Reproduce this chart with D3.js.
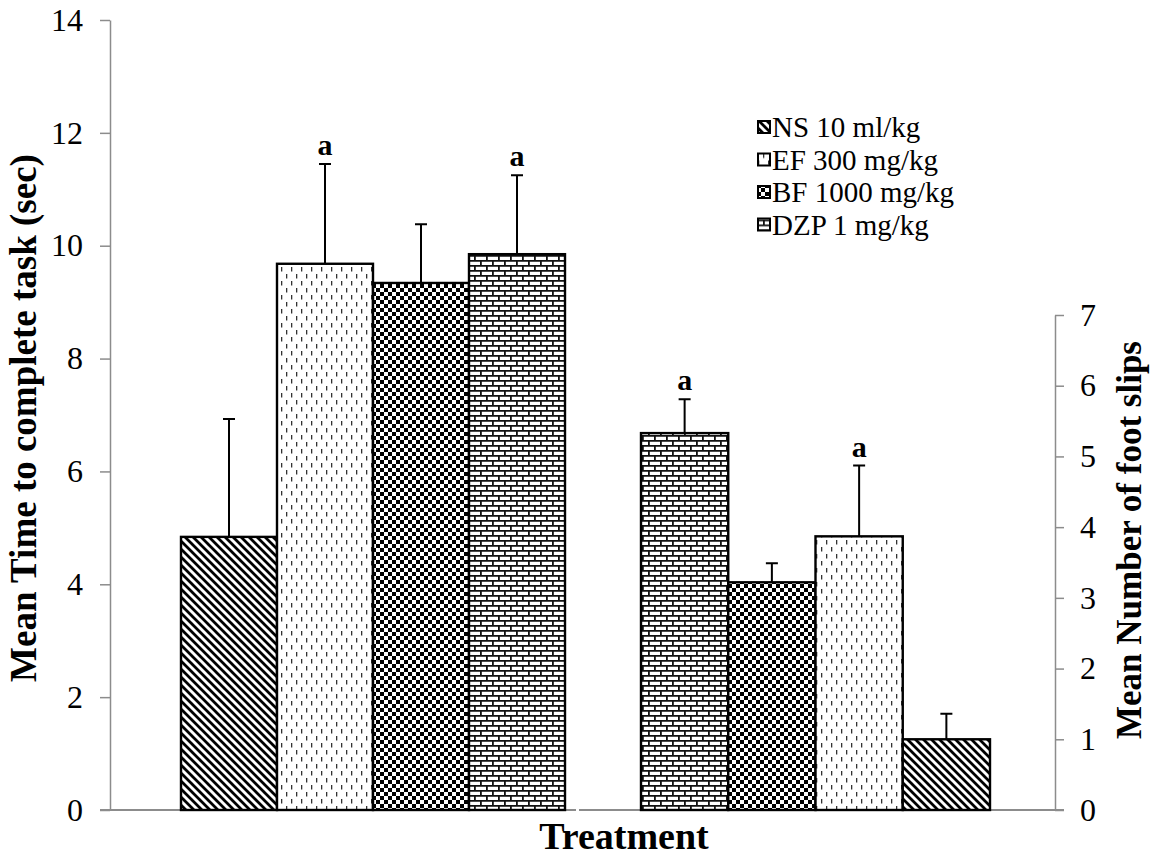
<!DOCTYPE html>
<html>
<head>
<meta charset="utf-8">
<script src="https://cdn.jsdelivr.net/npm/d3@7"></script>
<style>
  html, body { margin: 0; padding: 0; background: #fff; }
  svg { display: block; }
  text { font-family: "Liberation Serif", "Times New Roman", serif; fill: #000; }
</style>
</head>
<body>
<svg id="chart" width="1151" height="863"></svg>
<script>
// Treatments, in legend order
const treatments = ["NS 10 ml/kg", "EF 300 mg/kg", "BF 1000 mg/kg", "DZP 1 mg/kg"];
const patternIds = ["pNS", "pEF", "pBF", "pDZP"];

// Time to complete the task (sec), mean and SEM, legend order
const timeMean = [4.84, 9.68, 9.34, 9.85];
const timeSem  = [2.09, 1.77, 1.04, 1.40];
const timeSig  = ["", "a", "", "a"];

// Number of foot slips, mean and SEM, legend order
const slipMean = [1.00, 3.87, 3.22, 5.33];
const slipSem  = [0.36, 1.00, 0.27, 0.48];
const slipSig  = ["", "a", "", "a"];
// The foot-slip group is drawn in reverse order
const slipOrder = ["DZP 1 mg/kg", "BF 1000 mg/kg", "EF 300 mg/kg", "NS 10 ml/kg"];

const leftTicks  = [0, 2, 4, 6, 8, 10, 12, 14];
const rightTicks = [0, 1, 2, 3, 4, 5, 6, 7];

const svg = d3.select("#chart");

// ---- fill patterns ----
const defs = svg.append("defs");

const pNS = defs.append("pattern").attr("id", "pNS")
  .attr("patternUnits", "userSpaceOnUse").attr("width", 8).attr("height", 8);
pNS.append("rect").attr("width", 8).attr("height", 8).attr("fill", "#fff");
pNS.append("path").attr("d", "M-2,-2L10,10M-2,6L2,10M6,-2L10,2")
  .attr("stroke", "#000").attr("stroke-width", 2.8);

const pEF = defs.append("pattern").attr("id", "pEF")
  .attr("patternUnits", "userSpaceOnUse").attr("width", 10).attr("height", 14);
pEF.append("rect").attr("width", 10).attr("height", 14).attr("fill", "#fff");
pEF.append("rect").attr("x", 1).attr("y", 1).attr("width", 1.3).attr("height", 4.5).attr("fill", "#333");
pEF.append("rect").attr("x", 6).attr("y", 8).attr("width", 1.3).attr("height", 4.5).attr("fill", "#333");

const pBF = defs.append("pattern").attr("id", "pBF")
  .attr("patternUnits", "userSpaceOnUse").attr("width", 8).attr("height", 8);
pBF.append("rect").attr("width", 8).attr("height", 8).attr("fill", "#fff");
pBF.append("rect").attr("x", 0).attr("y", 0).attr("width", 4).attr("height", 4).attr("fill", "#000");
pBF.append("rect").attr("x", 4).attr("y", 4).attr("width", 4).attr("height", 4).attr("fill", "#000");

const pDZP = defs.append("pattern").attr("id", "pDZP")
  .attr("patternUnits", "userSpaceOnUse").attr("width", 12).attr("height", 10);
pDZP.append("rect").attr("width", 12).attr("height", 10).attr("fill", "#fff");
pDZP.append("path").attr("d", "M0,0.9H12M0,5.9H12M0.9,0V5M6.9,5V10")
  .attr("stroke", "#111").attr("stroke-width", 1.8).attr("fill", "none");

// ---- scales ----
const yLeft  = d3.scaleLinear().domain([0, 14]).range([810, 20]);
const yRight = d3.scaleLinear().domain([0, 7]).range([810, 315]);
const xTime  = d3.scaleBand().domain(treatments).range([181, 565]).padding(0);
const xSlip  = d3.scaleBand().domain(slipOrder).range([641, 990]).padding(0);

const axisColor = "#8c8c8c";

// ---- axes ----
const gL = svg.append("g").attr("transform", "translate(110,0)")
  .call(d3.axisLeft(yLeft).tickValues(leftTicks).tickFormat(d3.format("d"))
    .tickSize(10).tickSizeOuter(0).tickPadding(17));
const gR = svg.append("g").attr("transform", "translate(1055,0)")
  .call(d3.axisRight(yRight).tickValues(rightTicks).tickFormat(d3.format("d"))
    .tickSize(9).tickSizeOuter(0).tickPadding(16));
[gL, gR].forEach(g => {
  g.select(".domain").attr("stroke", axisColor).attr("stroke-width", 1.5);
  g.selectAll(".tick line").attr("stroke", axisColor).attr("stroke-width", 1.5);
  g.selectAll(".tick text").attr("font-size", 32).attr("fill", "#000")
    .style("font-family", "'Liberation Serif', serif");
});

// category axis: two segments, one under each group
const baseSegs = [[100, 576], [579, 1064]];
svg.append("g").selectAll("line").data(baseSegs).join("line")
  .attr("x1", d => d[0]).attr("x2", d => d[1])
  .attr("y1", yLeft(0)).attr("y2", yLeft(0))
  .attr("stroke", axisColor).attr("stroke-width", 2);

// ---- bars with error bars ----
function drawGroup(rows, x, y) {
  const g = svg.append("g");
  const cap = 6;
  // error bars (upper half only)
  g.selectAll(".err").data(rows).join("path")
    .attr("d", d => {
      const cx = x(d.k) + x.bandwidth() / 2;
      const y0 = y(d.m), y1 = y(d.m + d.s);
      return `M${cx},${y0}V${y1}M${cx - cap},${y1}H${cx + cap}`;
    })
    .attr("stroke", "#000").attr("stroke-width", 2).attr("fill", "none");
  g.selectAll(".bar").data(rows).join("rect")
    .attr("x", d => x(d.k)).attr("width", x.bandwidth())
    .attr("y", d => y(d.m)).attr("height", d => y(0) - y(d.m))
    .attr("fill", d => `url(#${patternIds[d.i]})`)
    .attr("stroke", "#000").attr("stroke-width", 2.4);
  g.selectAll(".sig").data(rows.filter(d => d.sig)).join("text")
    .attr("x", d => x(d.k) + x.bandwidth() / 2)
    .attr("y", d => y(d.m + d.s) - 9)
    .attr("text-anchor", "middle").attr("font-size", 30).attr("font-weight", "bold")
    .text(d => d.sig);
}

const timeRows = treatments.map((k, i) =>
  ({ k, i, m: timeMean[i], s: timeSem[i], sig: timeSig[i] }));
const slipRows = slipOrder.map(k => {
  const i = treatments.indexOf(k);
  return { k, i, m: slipMean[i], s: slipSem[i], sig: slipSig[i] };
});
drawGroup(timeRows, xTime, yLeft);
drawGroup(slipRows, xSlip, yRight);

// ---- axis titles ----
svg.append("text")
  .attr("transform", "translate(36,418) rotate(-90)")
  .attr("text-anchor", "middle").attr("font-size", 37).attr("font-weight", "bold")
  .text("Mean Time to complete task (sec)");
svg.append("text")
  .attr("transform", "translate(1141,540) rotate(-90)")
  .attr("text-anchor", "middle").attr("font-size", 35).attr("font-weight", "bold")
  .text("Mean Number of foot slips");
svg.append("text")
  .attr("x", 624).attr("y", 849)
  .attr("text-anchor", "middle").attr("font-size", 38).attr("font-weight", "bold")
  .text("Treatment");

// ---- legend ----
const legend = svg.append("g").attr("transform", "translate(757,127)");
const li = legend.selectAll("g").data(treatments).join("g")
  .attr("transform", (d, i) => `translate(0,${i * 32.5})`);
li.append("rect").attr("x", 1).attr("y", -6).attr("width", 12).attr("height", 12)
  .attr("fill", (d, i) => `url(#${patternIds[i]})`)
  .attr("stroke", "#000").attr("stroke-width", 2);
li.append("text").attr("x", 15).attr("y", 0).attr("dy", "0.35em")
  .attr("font-size", 29).text(d => d);
</script>
</body>
</html>
